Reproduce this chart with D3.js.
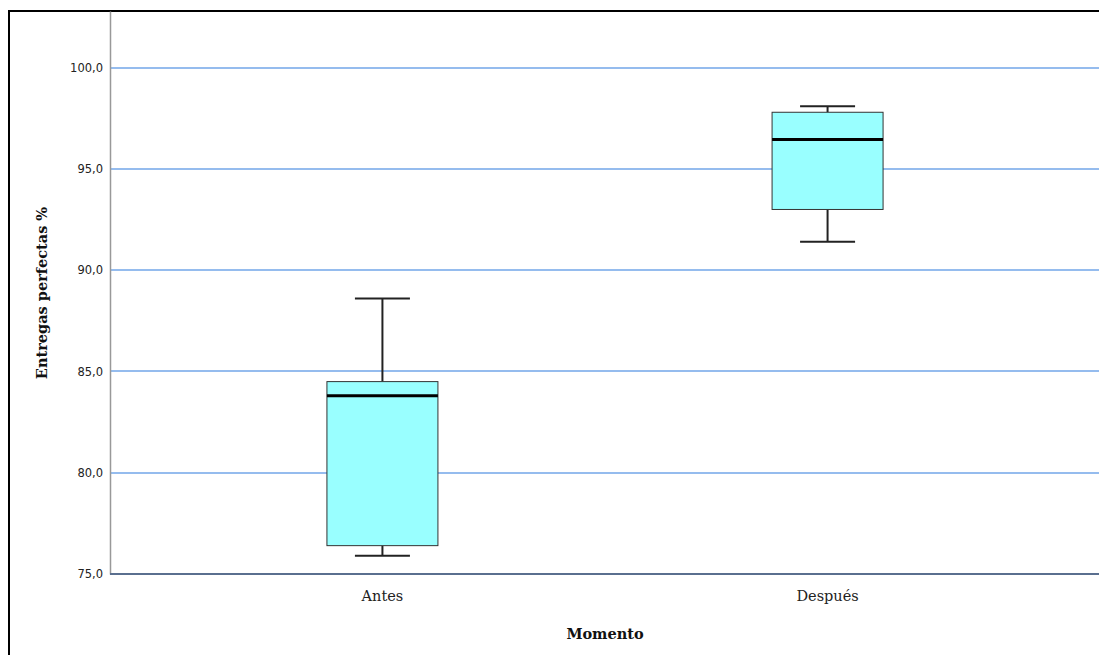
<!DOCTYPE html>
<meta charset="utf-8">
<style type="text/css">
body { margin: 0; background: #fff; }
.tick text { font-family: "DejaVu Sans", sans-serif; font-size: 11.5px; fill: #222; }
.cat text { font-family: "DejaVu Serif", serif; font-size: 14.5px; fill: #222; }
.grid line { stroke: #72a6e8; stroke-width: 1.6px; }
.box { fill: #99ffff; stroke: #333; stroke-width: 1px; }
.whisker { stroke: #222; stroke-width: 2px; }
.median { stroke: #000; stroke-width: 3px; }
.title { font-family: "DejaVu Serif", serif; font-weight: bold; font-size: 14.5px; fill: #111; }
</style>
<body>
</body>
<script src="https://cdn.jsdelivr.net/npm/d3@7"></script>
<script>

// data
var categories = ["Antes", "Después"];
var minVals = [75.9, 91.4];
var q1Vals = [76.4, 93.0];
var medians = [83.8, 96.45];
var q3Vals = [84.5, 97.8];
var maxVals = [88.6, 98.1];
var yTicks = [75, 80, 85, 90, 95, 100];

var W = 1099, H = 655;
var plotLeft = 110, plotRight = 1100, plotTop = 11, plotBottom = 574;

var svg = d3.select("body").append("svg")
    .attr("width", W)
    .attr("height", H);

// outer frame
svg.append("rect")
    .attr("x", 9).attr("y", 11)
    .attr("width", W + 20).attr("height", H + 20)
    .attr("fill", "none")
    .attr("stroke", "#000")
    .attr("stroke-width", 2);

var y = d3.scaleLinear().domain([75, 102.8]).range([plotBottom, plotTop]);
var x = d3.scalePoint().domain(categories).range([plotLeft, plotRight]).padding(0.612);
var boxW = 111, capW = 55;

// gridlines
svg.append("g")
    .attr("class", "grid")
    .selectAll("line")
    .data(yTicks.slice(1))
    .enter().append("line")
    .attr("x1", plotLeft).attr("x2", plotRight)
    .attr("y1", function(d) { return Math.round(y(d)); })
    .attr("y2", function(d) { return Math.round(y(d)); });

// y axis
var yAxis = svg.append("g")
    .attr("transform", "translate(" + plotLeft + ",0)")
    .call(d3.axisLeft(y).tickValues(yTicks).tickSize(0).tickPadding(7)
        .tickFormat(function(d) { return d3.format(".1f")(d).replace(".", ","); }));
yAxis.select(".domain").attr("stroke", "#999").attr("stroke-width", 1.5);

// x axis line
svg.append("line")
    .attr("x1", plotLeft).attr("x2", plotRight)
    .attr("y1", plotBottom).attr("y2", plotBottom)
    .attr("stroke", "#5a6f8f").attr("stroke-width", 2);

// category labels
svg.append("g").attr("class", "cat")
    .selectAll("text")
    .data(categories)
    .enter().append("text")
    .attr("x", function(d) { return x(d); })
    .attr("y", 601)
    .attr("text-anchor", "middle")
    .text(function(d) { return d; });

// boxes
categories.forEach(function(c, i) {
    var cx = x(c);
    var g = svg.append("g");
    g.append("line").attr("class", "whisker")
        .attr("x1", cx).attr("x2", cx)
        .attr("y1", y(maxVals[i])).attr("y2", y(q3Vals[i]));
    g.append("line").attr("class", "whisker")
        .attr("x1", cx).attr("x2", cx)
        .attr("y1", y(q1Vals[i])).attr("y2", y(minVals[i]));
    g.append("line").attr("class", "whisker")
        .attr("x1", cx - capW / 2).attr("x2", cx + capW / 2)
        .attr("y1", y(maxVals[i])).attr("y2", y(maxVals[i]));
    g.append("line").attr("class", "whisker")
        .attr("x1", cx - capW / 2).attr("x2", cx + capW / 2)
        .attr("y1", y(minVals[i])).attr("y2", y(minVals[i]));
    g.append("rect").attr("class", "box")
        .attr("x", cx - boxW / 2)
        .attr("y", y(q3Vals[i]))
        .attr("width", boxW)
        .attr("height", y(q1Vals[i]) - y(q3Vals[i]));
    g.append("line").attr("class", "median")
        .attr("x1", cx - boxW / 2).attr("x2", cx + boxW / 2)
        .attr("y1", y(medians[i])).attr("y2", y(medians[i]));
});

// axis titles
svg.append("text")
    .attr("class", "title")
    .attr("x", (plotLeft + plotRight) / 2)
    .attr("y", 639)
    .attr("text-anchor", "middle")
    .text("Momento");

svg.append("text")
    .attr("class", "title")
    .attr("transform", "translate(47,293) rotate(-90)")
    .attr("text-anchor", "middle")
    .text("Entregas perfectas %");

</script>
